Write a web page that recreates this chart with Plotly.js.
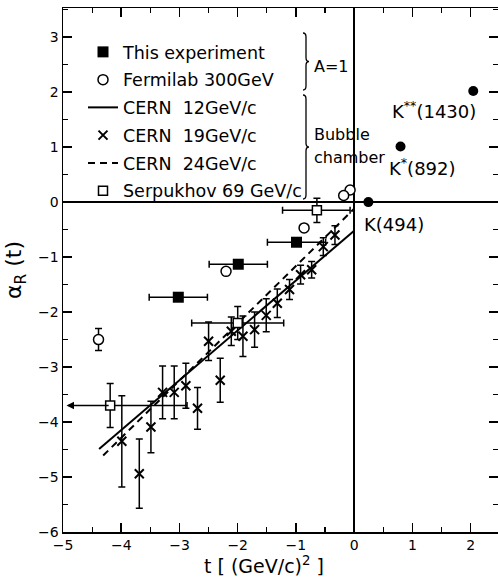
<!DOCTYPE html>
<html><head><meta charset="utf-8">
<script src="https://cdn.plot.ly/plotly-3.0.1.min.js"></script>
<style>body{margin:0;background:#fff}#chart{width:498px;height:577px}</style>
</head><body><div id="chart"></div>
<script>
// ---- data ----
const thisExpT = [-0.99, -1.99, -3.02];
const thisExpAlpha = [-0.73, -1.13, -1.73];
const thisExpTErr = [0.5, 0.5, 0.5];

const fermiT = [-0.07, -0.18, -0.86, -2.20, -4.39];
const fermiAlpha = [0.22, 0.12, -0.47, -1.26, -2.50];
const fermiAlphaErr = [null, null, null, null, 0.2];

const cern19T = [-0.33, -0.53, -0.73, -0.92, -1.11, -1.32, -1.51, -1.71, -1.91, -2.11, -2.30, -2.50, -2.69, -2.89, -3.09, -3.29, -3.49, -3.69, -3.99];
const cern19Alpha = [-0.60, -0.81, -1.23, -1.32, -1.59, -1.84, -2.06, -2.32, -2.44, -2.35, -3.24, -2.53, -3.75, -3.34, -3.46, -3.46, -4.09, -4.94, -4.35];
const cern19Err = [0.17, 0.16, 0.15, 0.17, 0.18, 0.26, 0.30, 0.32, 0.37, 0.26, 0.40, 0.35, 0.38, 0.41, 0.48, 0.48, 0.47, 0.63, 0.83];

const cern12T = [-4.38, 0];
const cern12Alpha = [-4.49, -0.52];
const cern24T = [-4.31, 0];
const cern24Alpha = [-4.61, -0.12];

const serpT = [-0.64, -2.00, -4.19];
const serpAlpha = [-0.15, -2.20, -3.70];
const serpAlphaErr = [0.22, 0.30, 0.40];
const serpTErrPlus = [0.57, 0.79, 1.32];
const serpTErrMinus = [0.59, 0.79, 0];
const serpArrowTo = [null, null, -4.94];

const kNames = ['K(494)', 'K<sup>*</sup>(892)', 'K<sup>**</sup>(1430)'];
const kT = [0.244, 0.796, 2.045];
const kAlpha = [0, 1.01, 2.02];

const legendNames = ['This experiment', 'Fermilab 300GeV', 'CERN  12GeV/c', 'CERN  19GeV/c', 'CERN  24GeV/c', 'Serpukhov 69 GeV/c'];
const xTitle = 't [ (GeV/c)<sup>2</sup> ]';
const yTitle = '\u03b1<sub>R</sub> (t)';

// ---- style ----
const FONT = 'DejaVu Sans';
const BLK = '#000';
const L = 63, R = 498, T = 8, B = 532;
const px = x => (x - L) / (R - L);
const py = y => (B - y) / (B - T);
const kLabelShift = [[-6, -22], [-14, -20], [-83, -19]];

function ebar(arr, extra) {
  return Object.assign({type: 'data', array: arr, visible: true, color: BLK, thickness: 1.5, width: 3.5}, extra || {});
}

const traces = [
  {x: cern12T, y: cern12Alpha, mode: 'lines', name: legendNames[2], legendrank: 3, legendgroup: 'c',
   line: {color: BLK, width: 2}},
  {x: cern24T, y: cern24Alpha, mode: 'lines', name: legendNames[4], legendrank: 5, legendgroup: 'e',
   line: {color: BLK, width: 2, dash: '7px,5px'}},
  {x: cern19T, y: cern19Alpha, mode: 'markers', name: legendNames[3], legendrank: 4, legendgroup: 'd',
   marker: {symbol: 'x-thin', size: 9, line: {color: BLK, width: 2}, color: BLK},
   error_y: ebar(cern19Err)},
  {x: fermiT, y: fermiAlpha, mode: 'markers', name: legendNames[1], legendrank: 2, legendgroup: 'b',
   marker: {symbol: 'circle', size: 10, color: '#fff', line: {color: BLK, width: 1.5}},
   error_y: ebar(fermiAlphaErr)},
  {x: serpT, y: serpAlpha, mode: 'markers', name: legendNames[5], legendrank: 6, legendgroup: 'f',
   marker: {symbol: 'square', size: 9, color: '#fff', line: {color: BLK, width: 1.5}},
   error_y: ebar(serpAlphaErr),
   error_x: ebar(serpTErrPlus, {symmetric: false, arrayminus: serpTErrMinus})},
  {x: thisExpT, y: thisExpAlpha, mode: 'markers', name: legendNames[0], legendrank: 1, legendgroup: 'a',
   marker: {symbol: 'square', size: 11, color: BLK},
   error_x: ebar(thisExpTErr)},
  {x: kT, y: kAlpha, mode: 'markers', showlegend: false,
   marker: {symbol: 'circle', size: 10, color: BLK}}
];

const annotations = [];
kNames.forEach((n, i) => annotations.push({
  x: kT[i], y: kAlpha[i], xref: 'x', yref: 'y', text: n, showarrow: false,
  xanchor: 'left', yanchor: 'middle', xshift: kLabelShift[i][0], yshift: kLabelShift[i][1],
  font: {family: FONT, size: 18, color: BLK}
}));
serpArrowTo.forEach((v, i) => {
  if (v === null) return;
  annotations.push({x: v, y: serpAlpha[i], ax: serpT[i], ay: serpAlpha[i], xref: 'x', yref: 'y',
    axref: 'x', ayref: 'y', text: '', showarrow: true, arrowhead: 2, arrowsize: 1, arrowwidth: 1.5, arrowcolor: BLK});
});
[['A=1', 312, 66], ['Bubble', 312, 134], ['chamber', 312, 157]].forEach(a => annotations.push({
  x: px(a[1]), y: py(a[2]), xref: 'paper', yref: 'paper', text: a[0], showarrow: false,
  xanchor: 'left', yanchor: 'middle', font: {family: FONT, size: 16, color: BLK}
}));
// x-axis title placed where the reference has it (slightly left of plot centre)
annotations.push({x: px(264), y: py(565), xref: 'paper', yref: 'paper', text: xTitle, showarrow: false,
  xanchor: 'center', yanchor: 'middle', font: {family: FONT, size: 19, color: BLK}});

function brace(x, y0, y1) {
  const ym = (y0 + y1) / 2;
  const P = (a, b) => px(a) + ',' + py(b);
  return 'M' + P(x, y0) + ' Q' + P(x + 3, y0) + ' ' + P(x + 3, y0 + 4) +
    ' L' + P(x + 3, ym - 4) + ' Q' + P(x + 3, ym) + ' ' + P(x + 6, ym) +
    ' Q' + P(x + 3, ym) + ' ' + P(x + 3, ym + 4) +
    ' L' + P(x + 3, y1 - 4) + ' Q' + P(x + 3, y1) + ' ' + P(x, y1);
}
const shapes = [
  {type: 'path', xref: 'paper', yref: 'paper', path: brace(303, 33, 90), line: {color: BLK, width: 1.3}},
  {type: 'path', xref: 'paper', yref: 'paper', path: brace(303, 95, 199), line: {color: BLK, width: 1.3}}
];

const axisCommon = {
  showgrid: false, showline: true, linecolor: BLK, linewidth: 1.5, mirror: 'ticks',
  ticks: 'inside', ticklen: 9, tickwidth: 1.5, tickcolor: BLK, dtick: 1,
  zeroline: true, zerolinecolor: BLK, zerolinewidth: 1.5,
  tickfont: {family: FONT, size: 14, color: BLK},
  minor: {dtick: 0.5, ticks: 'inside', ticklen: 5, tickwidth: 1.2, tickcolor: BLK, showgrid: false}
};

const layout = {
  width: 498, height: 577,
  margin: {l: L, r: 498 - R, t: T, b: 577 - B},
  paper_bgcolor: '#fff', plot_bgcolor: '#fff',
  showlegend: true,
  legend: {x: px(83), y: py(34), xanchor: 'left', yanchor: 'top', bgcolor: 'rgba(0,0,0,0)',
    traceorder: 'grouped', tracegroupgap: 2, font: {family: FONT, size: 17.5, color: BLK}},
  xaxis: Object.assign({}, axisCommon, {range: [-5, 2.47], tickangle: 0}),
  yaxis: Object.assign({}, axisCommon, {range: [-6, 3.53],
    title: {text: yTitle, font: {family: FONT, size: 22, color: BLK}, standoff: 10}}),
  annotations: annotations,
  shapes: shapes
};

Plotly.newPlot('chart', traces, layout, {displayModeBar: false, staticPlot: true});
</script>
</body></html>
